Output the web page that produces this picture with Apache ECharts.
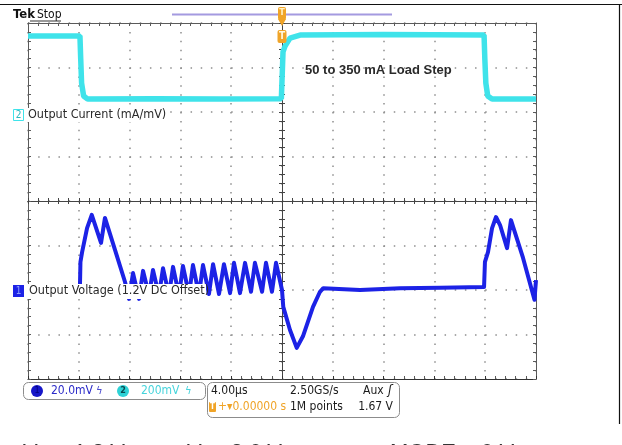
<!DOCTYPE html>
<html><head><meta charset="utf-8">
<script src="https://cdn.jsdelivr.net/npm/echarts@6/dist/echarts.min.js"></script>
<style>html,body{margin:0;padding:0;background:#fff}#c{width:622px;height:445px}</style>
</head><body><div id="c"></div>
<script>
// Horizontal: time in µs (4.00 µs/div, 10 div). Vertical: screen divisions (8 div).
const timeRange = [-20, 20];
const timeInterval = 4;
const divRange = [-4, 4];

// Channel 2 (cyan) – Output Current, in screen divisions
const ch2Current = [
  [-20, 3.71], [-15.91, 3.71], [-15.85, 3.20], [-15.78, 2.65], [-15.62, 2.36], [-15.3, 2.29],
  [-10, 2.30], [-5, 2.29], [-0.05, 2.30], [0.04, 2.31], [0.08, 3.35], [0.24, 3.48], [0.63, 3.66],
  [1.42, 3.73], [8, 3.74], [15.91, 3.73], [15.97, 3.20], [16.05, 2.65], [16.2, 2.36],
  [16.54, 2.29], [20, 2.29]
];

// Channel 1 (blue) – Output Voltage (1.2 V DC offset), in screen divisions
const ch1Voltage = [
  [-20, -1.95], [-15.91, -1.93], [-15.87, -1.37], [-15.74, -1.15], [-15.35, -0.61], [-14.98, -0.31],
  [-14.25, -0.94], [-13.94, -0.38], [-13.15, -1.10], [-12.36, -1.82],
  [-12.05, -2.2], [-11.73, -1.62], [-11.26, -2.2], [-10.94, -1.57], [-10.47, -2.12], [-10.16, -1.55],
  [-9.69, -2.12], [-9.37, -1.51], [-8.90, -2.12], [-8.58, -1.48], [-8.11, -2.12], [-7.80, -1.46],
  [-7.32, -2.11], [-7.01, -1.44], [-6.54, -2.11], [-6.22, -1.44], [-5.75, -2.09], [-5.43, -1.42],
  [-4.96, -2.09], [-4.57, -1.42], [-4.09, -2.07], [-3.78, -1.39], [-3.31, -2.07], [-2.91, -1.39],
  [-2.44, -2.04], [-2.13, -1.39], [-1.57, -2.04], [-1.26, -1.39], [-0.79, -2.04], [-0.47, -1.39],
  [0, -2.00], [0.1, -2.38], [0.63, -2.90], [1.16, -3.30], [1.65, -3.04], [2.44, -2.38],
  [2.99, -2.04], [3.25, -1.96], [6.14, -2.00], [9.29, -1.96], [12.44, -1.95], [15.91, -1.93],
  [15.98, -1.37], [16.22, -1.15], [16.54, -0.61], [16.85, -0.36], [17.17, -0.54], [17.72, -1.06],
  [18.03, -0.43], [18.98, -1.28], [19.88, -2.22], [20, -1.78]
];

// Labels
const ch2Label = 'Output Current (mA/mV)';
const ch1Label = 'Output Voltage (1.2V DC Offset)';
const annotation = '50 to 350 mA Load Step';
const ch1Scale = '20.0mV';
const ch2Scale = '200mV';
const timebase = '4.00µs';
const sampleRate = '2.50GS/s';
const recordLength = '1M points';
const trigPos = '0.00000 s';
const trigLevel = '1.67 V';

const CYAN = '#3fe3ea', BLUE = '#1c22e6', ORANGE = '#f0a428';
const FONT = '"Liberation Sans Narrow","DejaVu Sans Condensed","Liberation Sans",sans-serif';
const tickCol = '#5a5a5a';
const dotCol = '#8f8f8f';

function axisBase(extra) {
  return Object.assign({
    type: 'value', axisLabel: { show: false },
    splitLine: { show: false },
    axisTick: { show: true, length: 3, lineStyle: { color: tickCol } },
    minorTick: { show: true, splitNumber: 5, length: 3, lineStyle: { color: tickCol } },
    axisLine: { show: true, onZero: false, lineStyle: { color: tickCol } }
  }, extra);
}
function xA(extra) { return axisBase(Object.assign({ min: timeRange[0], max: timeRange[1], interval: timeInterval }, extra)); }
function yA(extra) { return axisBase(Object.assign({ min: divRange[0], max: divRange[1], interval: 1 }, extra)); }

const chart = echarts.init(document.getElementById('c'));
const option = {
  animation: false,
  backgroundColor: '#fff',
  grid: { left: 28, top: 23, width: 508, height: 356 },
  xAxis: [
    xA({ position: 'bottom', axisLine: { show: true, onZero: true, onZeroAxisIndex: 0, lineStyle: { color: '#444' } },
         axisTick: { show: true, inside: true, length: 3, lineStyle: { color: '#444' } },
         minorTick: { show: true, splitNumber: 5, length: 3, lineStyle: { color: '#444' } },
         splitLine: { show: true, lineStyle: { color: dotCol, width: 1.5, type: [1.5, 7.4] } } }),
    xA({ position: 'bottom', axisLine: { show: true, onZero: true, onZeroAxisIndex: 0, lineStyle: { color: '#444' } },
         axisTick: { show: true, inside: false, length: 3, lineStyle: { color: '#444' } },
         minorTick: { show: true, splitNumber: 5, length: 3, lineStyle: { color: '#444' } } }),
    xA({ position: 'top', axisTick: { show: true, inside: true, length: 3, lineStyle: { color: tickCol } } }),
    xA({ position: 'bottom', axisLine: { show: true, onZero: false, lineStyle: { color: '#333', width: 1.2 } },
         axisTick: { show: true, inside: true, length: 3, lineStyle: { color: '#333' } } })
  ],
  yAxis: [
    yA({ position: 'left', axisLine: { show: true, onZero: true, onZeroAxisIndex: 0, lineStyle: { color: '#444' } },
         axisTick: { show: true, inside: true, length: 3, lineStyle: { color: '#444' } },
         minorTick: { show: true, splitNumber: 5, length: 3, lineStyle: { color: '#444' } },
         splitLine: { show: true, lineStyle: { color: dotCol, width: 1.5, type: [1.5, 8.66] } } }),
    yA({ position: 'left', axisLine: { show: true, onZero: true, onZeroAxisIndex: 0, lineStyle: { color: '#444' } },
         axisTick: { show: true, inside: false, length: 3, lineStyle: { color: '#444' } },
         minorTick: { show: true, splitNumber: 5, length: 3, lineStyle: { color: '#444' } } }),
    yA({ position: 'left', axisTick: { show: true, inside: true, length: 3, lineStyle: { color: tickCol } } }),
    yA({ position: 'right', axisTick: { show: true, inside: true, length: 3, lineStyle: { color: tickCol } } })
  ],
  series: [
    { type: 'line', name: 'ch2', data: ch2Current, showSymbol: false, xAxisIndex: 0, yAxisIndex: 0,
      lineStyle: { color: CYAN, width: 5.5 }, z: 5 },
    { type: 'line', name: 'ch1', data: ch1Voltage, showSymbol: false, xAxisIndex: 0, yAxisIndex: 0,
      lineStyle: { color: BLUE, width: 4, join: 'round' }, z: 6 }
  ]
};
chart.setOption(option);

const t0 = chart.convertToPixel({ xAxisIndex: 0 }, 0);
const g = [];
// frame
g.push({ type: 'line', shape: { x1: 0, y1: 4.5, x2: 622, y2: 4.5 }, style: { stroke: '#111', lineWidth: 1.2 }, z: 100 });
g.push({ type: 'line', shape: { x1: 619.5, y1: 4, x2: 619.5, y2: 424 }, style: { stroke: '#111', lineWidth: 1.2 }, z: 100 });
// Tek Stop
g.push({ type: 'text', x: 13, y: 15, style: { text: 'Tek', font: 'bold 13px ' + FONT, fill: '#111', verticalAlign: 'middle' }, z: 100 });
g.push({ type: 'text', x: 37, y: 15, style: { text: 'Stop', font: '12px ' + FONT, fill: '#111', verticalAlign: 'middle' }, z: 100 });
g.push({ type: 'line', shape: { x1: 30, y1: 21, x2: 61, y2: 21 }, style: { stroke: '#333', lineWidth: 1 }, z: 100 });
// record bar
g.push({ type: 'line', shape: { x1: 172, y1: 14.5, x2: 392, y2: 14.5 }, style: { stroke: '#a49ae0', lineWidth: 2 }, z: 100 });
// trigger markers
g.push({ type: 'rect', shape: { x: t0 - 4, y: 7, width: 8, height: 13, r: 2 }, style: { fill: ORANGE }, z: 101 });
g.push({ type: 'polygon', shape: { points: [[t0 - 4, 19], [t0 + 4, 19], [t0, 26]] }, style: { fill: ORANGE }, z: 101 });
g.push({ type: 'text', x: t0, y: 13, style: { text: 'T', font: 'bold 9px ' + FONT, fill: '#fff3c8', align: 'center', verticalAlign: 'middle' }, z: 102 });
g.push({ type: 'rect', shape: { x: t0 - 4.5, y: 30, width: 9, height: 13, r: 2 }, style: { fill: ORANGE }, z: 101 });
g.push({ type: 'text', x: t0, y: 36.5, style: { text: 'T', font: 'bold 10px ' + FONT, fill: '#fff8e0', align: 'center', verticalAlign: 'middle' }, z: 102 });
// annotation
g.push({ type: 'text', x: 305, y: 70, style: { text: annotation, font: 'bold 13px "Liberation Sans",Arial,sans-serif', fill: '#2a2a2a', verticalAlign: 'middle' }, z: 100 });
// channel labels
g.push({ type: 'rect', shape: { x: 13.5, y: 109.5, width: 10, height: 11 }, style: { fill: '#fff', stroke: CYAN, lineWidth: 1 }, z: 100 });
g.push({ type: 'text', x: 18.5, y: 115, style: { text: '2', font: '10px ' + FONT, fill: '#2bb8c0', align: 'center', verticalAlign: 'middle' }, z: 101 });
g.push({ type: 'rect', shape: { x: 27, y: 108, width: 141, height: 14 }, style: { fill: '#fff' }, z: 99 });
g.push({ type: 'text', x: 28, y: 115, style: { text: ch2Label, font: '12.5px ' + FONT, fill: '#2a2a2a', verticalAlign: 'middle' }, z: 100 });
g.push({ type: 'rect', shape: { x: 27, y: 284, width: 179, height: 15 }, style: { fill: '#fff' }, z: 99 });
g.push({ type: 'rect', shape: { x: 13, y: 285, width: 11, height: 12 }, style: { fill: BLUE }, z: 100 });
g.push({ type: 'text', x: 18.5, y: 291, style: { text: '1', font: '10px ' + FONT, fill: '#8fa0ff', align: 'center', verticalAlign: 'middle' }, z: 101 });
g.push({ type: 'text', x: 29, y: 291, style: { text: ch1Label, font: '12.5px ' + FONT, fill: '#2a2a2a', verticalAlign: 'middle' }, z: 100 });
// status box 1
g.push({ type: 'rect', shape: { x: 23.5, y: 382.5, width: 182, height: 17, r: 5 }, style: { fill: '#fff', stroke: '#8c8c8c', lineWidth: 1 }, z: 100 });
g.push({ type: 'circle', shape: { cx: 37, cy: 391, r: 6 }, style: { fill: '#1616c8' }, z: 101 });
g.push({ type: 'text', x: 37, y: 391, style: { text: '1', font: '9px ' + FONT, fill: '#00007a', align: 'center', verticalAlign: 'middle' }, z: 102 });
g.push({ type: 'text', x: 51, y: 391, style: { text: ch1Scale, font: '12px ' + FONT, fill: '#2a2ac8', verticalAlign: 'middle' }, z: 101 });
g.push({ type: 'text', x: 96, y: 391, style: { text: 'ϟ', font: '10px "DejaVu Sans",sans-serif', fill: '#4a4ad0', verticalAlign: 'middle' }, z: 101 });
g.push({ type: 'circle', shape: { cx: 123, cy: 391, r: 6 }, style: { fill: '#2ed2d6' }, z: 101 });
g.push({ type: 'text', x: 123, y: 391, style: { text: '2', font: 'bold 9px ' + FONT, fill: '#0a4a50', align: 'center', verticalAlign: 'middle' }, z: 102 });
g.push({ type: 'text', x: 141, y: 391, style: { text: ch2Scale, font: '12px ' + FONT, fill: '#46d4dc', verticalAlign: 'middle' }, z: 101 });
g.push({ type: 'text', x: 185, y: 391, style: { text: 'ϟ', font: '10px "DejaVu Sans",sans-serif', fill: '#46d4dc', verticalAlign: 'middle' }, z: 101 });
// status box 2
g.push({ type: 'rect', shape: { x: 207.5, y: 382.5, width: 192, height: 35, r: 5 }, style: { fill: '#fff', stroke: '#8c8c8c', lineWidth: 1 }, z: 100 });
g.push({ type: 'text', x: 211, y: 391, style: { text: timebase, font: '12px ' + FONT, fill: '#1a1a1a', verticalAlign: 'middle' }, z: 101 });
g.push({ type: 'text', x: 290, y: 391, style: { text: sampleRate, font: '12px ' + FONT, fill: '#1a1a1a', verticalAlign: 'middle' }, z: 101 });
g.push({ type: 'text', x: 363, y: 391, style: { text: 'Aux', font: '12px ' + FONT, fill: '#1a1a1a', verticalAlign: 'middle' }, z: 101 });
g.push({ type: 'text', x: 388, y: 391, style: { text: 'ʃ', font: 'italic 12px "DejaVu Sans",sans-serif', fill: '#1a1a1a', verticalAlign: 'middle' }, z: 101 });
g.push({ type: 'rect', shape: { x: 209, y: 402, width: 7, height: 10, r: 1 }, style: { fill: ORANGE }, z: 101 });
g.push({ type: 'text', x: 212.5, y: 407, style: { text: 'T', font: 'bold 8px ' + FONT, fill: '#fff', align: 'center', verticalAlign: 'middle' }, z: 102 });
g.push({ type: 'text', x: 218, y: 407, style: { text: '+▾' + trigPos, font: '12px ' + FONT, fill: ORANGE, verticalAlign: 'middle' }, z: 101 });
g.push({ type: 'text', x: 290, y: 407, style: { text: recordLength, font: '12px ' + FONT, fill: '#1a1a1a', verticalAlign: 'middle' }, z: 101 });
g.push({ type: 'text', x: 393, y: 407, style: { text: trigLevel, font: '12px ' + FONT, fill: '#1a1a1a', align: 'right', verticalAlign: 'middle' }, z: 101 });
// cut-off caption below
const capFont = '22px "Liberation Sans",Arial,sans-serif';
const capRich = { s: { font: '14px "Liberation Sans",Arial,sans-serif', fill: '#333' } };
g.push({ type: 'text', x: 23, y: 442, style: { text: 'V{s|O} = 1.2 V', font: capFont, fill: '#333', verticalAlign: 'top', rich: capRich }, z: 100 });
g.push({ type: 'text', x: 187, y: 442, style: { text: 'V{s|I} = 3.6 V', font: capFont, fill: '#333', verticalAlign: 'top', rich: capRich }, z: 100 });
g.push({ type: 'text', x: 390, y: 442, style: { text: 'MODE = 0 V', font: capFont, fill: '#333', verticalAlign: 'top' }, z: 100 });

chart.setOption({ graphic: { elements: g } });
</script></body></html>
